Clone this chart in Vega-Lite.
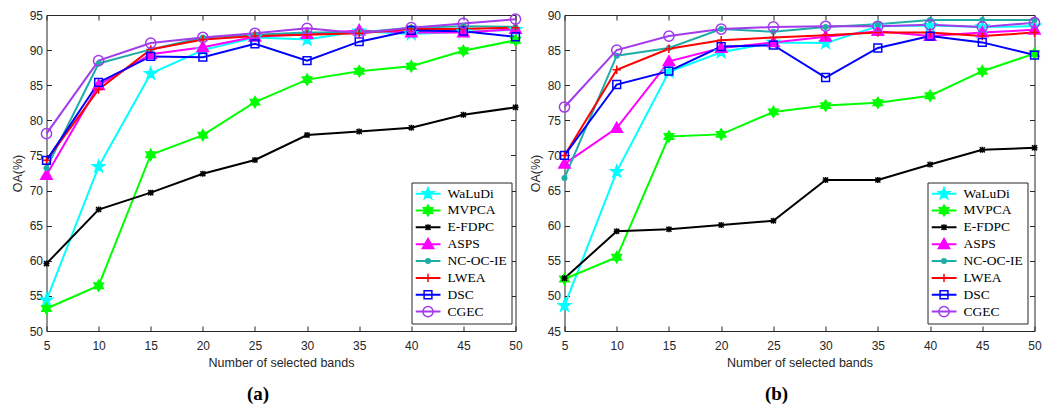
{
  "$schema": "https://vega.github.io/schema/vega-lite/v6.json",
  "padding": {"left": 10.5, "top": 8, "right": 5, "bottom": 5},
  "background": "white",
  "datasets": {
    "a": [
      {"series":"WaLuDi","bands":5,"oa":54.4},{"series":"WaLuDi","bands":10,"oa":73.4},{"series":"WaLuDi","bands":15,"oa":86.65},{"series":"WaLuDi","bands":20,"oa":90.0},{"series":"WaLuDi","bands":25,"oa":91.8},{"series":"WaLuDi","bands":30,"oa":91.5},{"series":"WaLuDi","bands":35,"oa":92.7},{"series":"WaLuDi","bands":40,"oa":92.3},{"series":"WaLuDi","bands":45,"oa":92.6},{"series":"WaLuDi","bands":50,"oa":92.9},
      {"series":"MVPCA","bands":5,"oa":53.2},{"series":"MVPCA","bands":10,"oa":56.45},{"series":"MVPCA","bands":15,"oa":75.1},{"series":"MVPCA","bands":20,"oa":77.9},{"series":"MVPCA","bands":25,"oa":82.6},{"series":"MVPCA","bands":30,"oa":85.8},{"series":"MVPCA","bands":35,"oa":87.0},{"series":"MVPCA","bands":40,"oa":87.7},{"series":"MVPCA","bands":45,"oa":89.9},{"series":"MVPCA","bands":50,"oa":91.4},
      {"series":"E-FDPC","bands":5,"oa":59.6},{"series":"E-FDPC","bands":10,"oa":67.3},{"series":"E-FDPC","bands":15,"oa":69.7},{"series":"E-FDPC","bands":20,"oa":72.4},{"series":"E-FDPC","bands":25,"oa":74.35},{"series":"E-FDPC","bands":30,"oa":77.9},{"series":"E-FDPC","bands":35,"oa":78.4},{"series":"E-FDPC","bands":40,"oa":78.95},{"series":"E-FDPC","bands":45,"oa":80.8},{"series":"E-FDPC","bands":50,"oa":81.85},
      {"series":"ASPS","bands":5,"oa":72.2},{"series":"ASPS","bands":10,"oa":85.0},{"series":"ASPS","bands":15,"oa":89.4},{"series":"ASPS","bands":20,"oa":90.4},{"series":"ASPS","bands":25,"oa":91.9},{"series":"ASPS","bands":30,"oa":92.3},{"series":"ASPS","bands":35,"oa":92.8},{"series":"ASPS","bands":40,"oa":92.5},{"series":"ASPS","bands":45,"oa":92.5},{"series":"ASPS","bands":50,"oa":93.0},
      {"series":"NC-OC-IE","bands":5,"oa":73.2},{"series":"NC-OC-IE","bands":10,"oa":88.1},{"series":"NC-OC-IE","bands":15,"oa":90.1},{"series":"NC-OC-IE","bands":20,"oa":91.8},{"series":"NC-OC-IE","bands":25,"oa":92.2},{"series":"NC-OC-IE","bands":30,"oa":92.5},{"series":"NC-OC-IE","bands":35,"oa":92.5},{"series":"NC-OC-IE","bands":40,"oa":93.2},{"series":"NC-OC-IE","bands":45,"oa":93.4},{"series":"NC-OC-IE","bands":50,"oa":93.3},
      {"series":"LWEA","bands":5,"oa":74.3},{"series":"LWEA","bands":10,"oa":84.4},{"series":"LWEA","bands":15,"oa":90.1},{"series":"LWEA","bands":20,"oa":91.5},{"series":"LWEA","bands":25,"oa":92.0},{"series":"LWEA","bands":30,"oa":92.2},{"series":"LWEA","bands":35,"oa":92.4},{"series":"LWEA","bands":40,"oa":93.0},{"series":"LWEA","bands":45,"oa":93.0},{"series":"LWEA","bands":50,"oa":93.2},
      {"series":"DSC","bands":5,"oa":74.3},{"series":"DSC","bands":10,"oa":85.4},{"series":"DSC","bands":15,"oa":89.1},{"series":"DSC","bands":20,"oa":89.0},{"series":"DSC","bands":25,"oa":90.9},{"series":"DSC","bands":30,"oa":88.5},{"series":"DSC","bands":35,"oa":91.2},{"series":"DSC","bands":40,"oa":92.8},{"series":"DSC","bands":45,"oa":92.7},{"series":"DSC","bands":50,"oa":91.9},
      {"series":"CGEC","bands":5,"oa":78.1},{"series":"CGEC","bands":10,"oa":88.5},{"series":"CGEC","bands":15,"oa":91.0},{"series":"CGEC","bands":20,"oa":91.8},{"series":"CGEC","bands":25,"oa":92.4},{"series":"CGEC","bands":30,"oa":93.1},{"series":"CGEC","bands":35,"oa":92.4},{"series":"CGEC","bands":40,"oa":93.2},{"series":"CGEC","bands":45,"oa":93.8},{"series":"CGEC","bands":50,"oa":94.4}
    ],
    "b": [
      {"series":"WaLuDi","bands":5,"oa":48.6},{"series":"WaLuDi","bands":10,"oa":67.7},{"series":"WaLuDi","bands":15,"oa":81.9},{"series":"WaLuDi","bands":20,"oa":84.7},{"series":"WaLuDi","bands":25,"oa":86.1},{"series":"WaLuDi","bands":30,"oa":86.0},{"series":"WaLuDi","bands":35,"oa":88.4},{"series":"WaLuDi","bands":40,"oa":88.5},{"series":"WaLuDi","bands":45,"oa":88.3},{"series":"WaLuDi","bands":50,"oa":88.4},
      {"series":"MVPCA","bands":5,"oa":52.4},{"series":"MVPCA","bands":10,"oa":55.5},{"series":"MVPCA","bands":15,"oa":72.7},{"series":"MVPCA","bands":20,"oa":73.0},{"series":"MVPCA","bands":25,"oa":76.2},{"series":"MVPCA","bands":30,"oa":77.1},{"series":"MVPCA","bands":35,"oa":77.5},{"series":"MVPCA","bands":40,"oa":78.5},{"series":"MVPCA","bands":45,"oa":82.0},{"series":"MVPCA","bands":50,"oa":84.5},
      {"series":"E-FDPC","bands":5,"oa":52.5},{"series":"E-FDPC","bands":10,"oa":59.2},{"series":"E-FDPC","bands":15,"oa":59.5},{"series":"E-FDPC","bands":20,"oa":60.1},{"series":"E-FDPC","bands":25,"oa":60.7},{"series":"E-FDPC","bands":30,"oa":66.5},{"series":"E-FDPC","bands":35,"oa":66.5},{"series":"E-FDPC","bands":40,"oa":68.7},{"series":"E-FDPC","bands":45,"oa":70.8},{"series":"E-FDPC","bands":50,"oa":71.1},
      {"series":"ASPS","bands":5,"oa":68.8},{"series":"ASPS","bands":10,"oa":73.9},{"series":"ASPS","bands":15,"oa":83.4},{"series":"ASPS","bands":20,"oa":85.3},{"series":"ASPS","bands":25,"oa":86.1},{"series":"ASPS","bands":30,"oa":86.9},{"series":"ASPS","bands":35,"oa":87.7},{"series":"ASPS","bands":40,"oa":87.0},{"series":"ASPS","bands":45,"oa":87.5},{"series":"ASPS","bands":50,"oa":87.9},
      {"series":"NC-OC-IE","bands":5,"oa":66.8},{"series":"NC-OC-IE","bands":10,"oa":84.2},{"series":"NC-OC-IE","bands":15,"oa":85.3},{"series":"NC-OC-IE","bands":20,"oa":88.0},{"series":"NC-OC-IE","bands":25,"oa":87.6},{"series":"NC-OC-IE","bands":30,"oa":88.3},{"series":"NC-OC-IE","bands":35,"oa":88.7},{"series":"NC-OC-IE","bands":40,"oa":89.3},{"series":"NC-OC-IE","bands":45,"oa":89.3},{"series":"NC-OC-IE","bands":50,"oa":89.3},
      {"series":"LWEA","bands":5,"oa":70.0},{"series":"LWEA","bands":10,"oa":82.2},{"series":"LWEA","bands":15,"oa":85.2},{"series":"LWEA","bands":20,"oa":86.4},{"series":"LWEA","bands":25,"oa":86.8},{"series":"LWEA","bands":30,"oa":87.1},{"series":"LWEA","bands":35,"oa":87.5},{"series":"LWEA","bands":40,"oa":87.5},{"series":"LWEA","bands":45,"oa":87.0},{"series":"LWEA","bands":50,"oa":87.5},
      {"series":"DSC","bands":5,"oa":70.0},{"series":"DSC","bands":10,"oa":80.1},{"series":"DSC","bands":15,"oa":82.0},{"series":"DSC","bands":20,"oa":85.5},{"series":"DSC","bands":25,"oa":85.7},{"series":"DSC","bands":30,"oa":81.1},{"series":"DSC","bands":35,"oa":85.3},{"series":"DSC","bands":40,"oa":87.0},{"series":"DSC","bands":45,"oa":86.1},{"series":"DSC","bands":50,"oa":84.3},
      {"series":"CGEC","bands":5,"oa":76.9},{"series":"CGEC","bands":10,"oa":85.0},{"series":"CGEC","bands":15,"oa":87.0},{"series":"CGEC","bands":20,"oa":88.0},{"series":"CGEC","bands":25,"oa":88.3},{"series":"CGEC","bands":30,"oa":88.4},{"series":"CGEC","bands":35,"oa":88.4},{"series":"CGEC","bands":40,"oa":88.6},{"series":"CGEC","bands":45,"oa":88.3},{"series":"CGEC","bands":50,"oa":88.9}
    ]
  },
  "spacing": 49,
  "bounds": "flush",
  "resolve": {
    "scale": {"color": "independent", "shape": "independent", "stroke": "independent", "fill": "independent", "y": "independent"},
    "legend": {"color": "independent", "shape": "independent", "stroke": "independent", "fill": "independent"}
  },
  "hconcat": [
    {
      "width": 469, "height": 316,
      "data": {"name": "a"},
      "title": {"text": "(a)", "orient": "bottom", "anchor": "middle", "font": "Liberation Serif", "fontSize": 19, "fontWeight": "bold", "color": "black", "offset": 16, "dx": -23},
      "resolve": {"axis": {"x": "independent", "y": "independent"}},
      "layer": [
        {
          "mark": {"type": "line", "strokeWidth": 2},
          "encoding": {
            "x": {"field": "bands", "type": "quantitative", "scale": {"domain": [5, 50], "nice": false}, "axis": {"values": [5,10,15,20,25,30,35,40,45,50], "title": "Number of selected bands"}},
            "y": {"field": "oa", "type": "quantitative", "scale": {"domain": [50, 95], "nice": false, "zero": false}, "axis": {"values": [50,55,60,65,70,75,80,85,90,95], "title": "OA(%)", "labelPadding": 9, "titlePadding": 5}},
            "color": {"field": "series", "type": "nominal", "sort": ["WaLuDi","MVPCA","E-FDPC","ASPS","NC-OC-IE","LWEA","DSC","CGEC"],
              "scale": {"range": ["#00FFFF","#00FF00","#000000","#FF00FF","#1FADA8","#FF0000","#0000FF","#A23BEC"]},
              "legend": {"orient": "none", "legendX": 365, "legendY": 167.5, "title": null, "symbolType": "M-2,0L2,0", "symbolSize": 156.25, "symbolStrokeWidth": 2, "symbolOffset": 5, "labelFont": "Liberation Serif", "labelFontSize": 13.5, "labelColor": "black", "labelOffset": 12, "padding": 4, "rowPadding": 1.85, "clipHeight": 14.25, "fillColor": "white", "strokeColor": "#262626", "labelLimit": 200}}
          }
        },
        {
          "mark": {"type": "point", "size": 144, "strokeWidth": 1.5, "opacity": 1},
          "encoding": {
            "x": {"field": "bands", "type": "quantitative", "axis": {"orient": "top", "values": [5,10,15,20,25,30,35,40,45,50], "labels": false, "title": null}},
            "y": {"field": "oa", "type": "quantitative", "axis": {"orient": "right", "values": [50,55,60,65,70,75,80,85,90,95], "labels": false, "title": null}},
            "shape": {"field": "series", "type": "nominal",
              "scale": {"domain": ["WaLuDi","MVPCA","E-FDPC","ASPS","NC-OC-IE","LWEA","DSC","CGEC"], "range": [
                "M0,-1.05L0.247,-0.34L0.999,-0.324L0.399,0.13L0.617,0.849L0,0.42L-0.617,0.849L-0.399,0.13L-0.999,-0.324L-0.247,-0.34Z",
                "M0,-0.9L0.26,-0.45L0.779,-0.45L0.52,0L0.779,0.45L0.26,0.45L0,0.9L-0.26,0.45L-0.779,0.45L-0.52,0L-0.779,-0.45L-0.26,-0.45Z",
                "M-0.42,-0.42L0.42,0.42M-0.42,0.42L0.42,-0.42M0,-0.5L0,0.5M-0.5,0L0.5,0",
                "M0,-0.95L0.95,0.7L-0.95,0.7Z",
                "M-0.38,0A0.38,0.38,0,1,0,0.38,0A0.38,0.38,0,1,0,-0.38,0Z",
                "M-0.7,0L0.7,0M0,-0.7L0,0.7",
                "M-0.65,-0.65L0.65,-0.65L0.65,0.65L-0.65,0.65Z",
                "M-0.85,0A0.85,0.85,0,1,0,0.85,0A0.85,0.85,0,1,0,-0.85,0Z"]},
              "legend": {"orient": "none", "legendX": 370.5, "legendY": 167.5, "title": null, "symbolSize": 144, "symbolStrokeWidth": 1.5, "labelFont": "Liberation Serif", "labelFontSize": 13.5, "labelOpacity": 0, "labelOffset": 12, "padding": 4, "rowPadding": 1.85, "clipHeight": 14.25, "labelLimit": 200}},
            "stroke": {"field": "series", "type": "nominal",
              "scale": {"domain": ["WaLuDi","MVPCA","E-FDPC","ASPS","NC-OC-IE","LWEA","DSC","CGEC"], "range": ["#00FFFF","#00FF00","#000000","#FF00FF","#1FADA8","#FF0000","#0000FF","#A23BEC"]},
              "legend": {"orient": "none", "legendX": 370.5, "legendY": 167.5, "title": null, "symbolSize": 144, "symbolStrokeWidth": 1.5, "labelFont": "Liberation Serif", "labelFontSize": 13.5, "labelOpacity": 0, "labelOffset": 12, "padding": 4, "rowPadding": 1.85, "clipHeight": 14.25, "labelLimit": 200}},
            "fill": {"field": "series", "type": "nominal",
              "scale": {"domain": ["WaLuDi","MVPCA","E-FDPC","ASPS","NC-OC-IE","LWEA","DSC","CGEC"], "range": ["#00FFFF","#00FF00","transparent","#FF00FF","#1FADA8","transparent","transparent","transparent"]},
              "legend": {"orient": "none", "legendX": 370.5, "legendY": 167.5, "title": null, "symbolSize": 144, "symbolStrokeWidth": 1.5, "labelFont": "Liberation Serif", "labelFontSize": 13.5, "labelOpacity": 0, "labelOffset": 12, "padding": 4, "rowPadding": 1.85, "clipHeight": 14.25, "labelLimit": 200}}
          }
        }
      ]
    },
    {
      "width": 470, "height": 316,
      "data": {"name": "b"},
      "title": {"text": "(b)", "orient": "bottom", "anchor": "middle", "font": "Liberation Serif", "fontSize": 19, "fontWeight": "bold", "color": "black", "offset": 16, "dx": -23},
      "resolve": {"axis": {"x": "independent", "y": "independent"}},
      "layer": [
        {
          "mark": {"type": "line", "strokeWidth": 2},
          "encoding": {
            "x": {"field": "bands", "type": "quantitative", "scale": {"domain": [5, 50], "nice": false}, "axis": {"values": [5,10,15,20,25,30,35,40,45,50], "title": "Number of selected bands"}},
            "y": {"field": "oa", "type": "quantitative", "scale": {"domain": [45, 90], "nice": false, "zero": false}, "axis": {"values": [45,50,55,60,65,70,75,80,85,90], "title": "OA(%)", "labelPadding": 9, "titlePadding": 5}},
            "color": {"field": "series", "type": "nominal", "sort": ["WaLuDi","MVPCA","E-FDPC","ASPS","NC-OC-IE","LWEA","DSC","CGEC"],
              "scale": {"range": ["#00FFFF","#00FF00","#000000","#FF00FF","#1FADA8","#FF0000","#0000FF","#A23BEC"]},
              "legend": {"orient": "none", "legendX": 363, "legendY": 167.5, "title": null, "symbolType": "M-2,0L2,0", "symbolSize": 156.25, "symbolStrokeWidth": 2, "symbolOffset": 5, "labelFont": "Liberation Serif", "labelFontSize": 13.5, "labelColor": "black", "labelOffset": 12, "padding": 4, "rowPadding": 1.85, "clipHeight": 14.25, "fillColor": "white", "strokeColor": "#262626", "labelLimit": 200}}
          }
        },
        {
          "mark": {"type": "point", "size": 144, "strokeWidth": 1.5, "opacity": 1},
          "encoding": {
            "x": {"field": "bands", "type": "quantitative", "axis": {"orient": "top", "values": [5,10,15,20,25,30,35,40,45,50], "labels": false, "title": null}},
            "y": {"field": "oa", "type": "quantitative", "axis": {"orient": "right", "values": [45,50,55,60,65,70,75,80,85,90], "labels": false, "title": null}},
            "shape": {"field": "series", "type": "nominal",
              "scale": {"domain": ["WaLuDi","MVPCA","E-FDPC","ASPS","NC-OC-IE","LWEA","DSC","CGEC"], "range": [
                "M0,-1.05L0.247,-0.34L0.999,-0.324L0.399,0.13L0.617,0.849L0,0.42L-0.617,0.849L-0.399,0.13L-0.999,-0.324L-0.247,-0.34Z",
                "M0,-0.9L0.26,-0.45L0.779,-0.45L0.52,0L0.779,0.45L0.26,0.45L0,0.9L-0.26,0.45L-0.779,0.45L-0.52,0L-0.779,-0.45L-0.26,-0.45Z",
                "M-0.42,-0.42L0.42,0.42M-0.42,0.42L0.42,-0.42M0,-0.5L0,0.5M-0.5,0L0.5,0",
                "M0,-0.95L0.95,0.7L-0.95,0.7Z",
                "M-0.38,0A0.38,0.38,0,1,0,0.38,0A0.38,0.38,0,1,0,-0.38,0Z",
                "M-0.7,0L0.7,0M0,-0.7L0,0.7",
                "M-0.65,-0.65L0.65,-0.65L0.65,0.65L-0.65,0.65Z",
                "M-0.85,0A0.85,0.85,0,1,0,0.85,0A0.85,0.85,0,1,0,-0.85,0Z"]},
              "legend": {"orient": "none", "legendX": 368.5, "legendY": 167.5, "title": null, "symbolSize": 144, "symbolStrokeWidth": 1.5, "labelFont": "Liberation Serif", "labelFontSize": 13.5, "labelOpacity": 0, "labelOffset": 12, "padding": 4, "rowPadding": 1.85, "clipHeight": 14.25, "labelLimit": 200}},
            "stroke": {"field": "series", "type": "nominal",
              "scale": {"domain": ["WaLuDi","MVPCA","E-FDPC","ASPS","NC-OC-IE","LWEA","DSC","CGEC"], "range": ["#00FFFF","#00FF00","#000000","#FF00FF","#1FADA8","#FF0000","#0000FF","#A23BEC"]},
              "legend": {"orient": "none", "legendX": 368.5, "legendY": 167.5, "title": null, "symbolSize": 144, "symbolStrokeWidth": 1.5, "labelFont": "Liberation Serif", "labelFontSize": 13.5, "labelOpacity": 0, "labelOffset": 12, "padding": 4, "rowPadding": 1.85, "clipHeight": 14.25, "labelLimit": 200}},
            "fill": {"field": "series", "type": "nominal",
              "scale": {"domain": ["WaLuDi","MVPCA","E-FDPC","ASPS","NC-OC-IE","LWEA","DSC","CGEC"], "range": ["#00FFFF","#00FF00","transparent","#FF00FF","#1FADA8","transparent","transparent","transparent"]},
              "legend": {"orient": "none", "legendX": 368.5, "legendY": 167.5, "title": null, "symbolSize": 144, "symbolStrokeWidth": 1.5, "labelFont": "Liberation Serif", "labelFontSize": 13.5, "labelOpacity": 0, "labelOffset": 12, "padding": 4, "rowPadding": 1.85, "clipHeight": 14.25, "labelLimit": 200}}
          }
        }
      ]
    }
  ],
  "config": {
    "font": "Liberation Sans",
    "view": {"stroke": "#262626", "strokeWidth": 1},
    "axis": {"grid": false, "domain": false, "tickSize": -5, "tickColor": "#262626", "tickWidth": 1, "labelFont": "Liberation Sans", "labelFontSize": 12, "labelColor": "#262626", "labelPadding": 14, "labelFlush": false, "labelOverlap": false, "titleFont": "Liberation Sans", "titleFontSize": 12.5, "titleFontWeight": "normal", "titleColor": "#262626", "titlePadding": 5},
    "legend": {"symbolOpacity": 1}
  }
}
